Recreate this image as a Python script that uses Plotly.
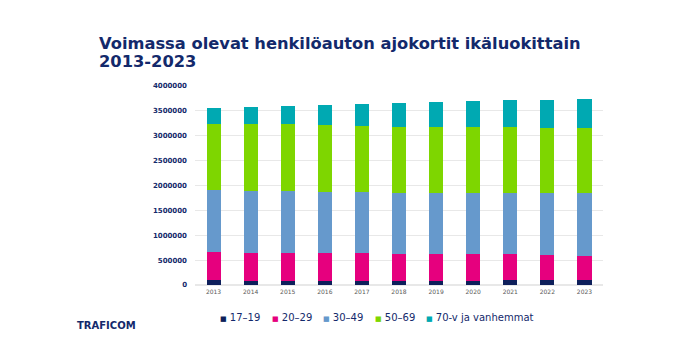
import plotly.graph_objects as go

years = ["2013", "2014", "2015", "2016", "2017", "2018", "2019", "2020", "2021", "2022", "2023"]
age_17_19 = [94000, 85000, 85000, 85000, 85000, 85000, 85000, 90000, 100000, 100000, 100000]
age_20_29 = [561000, 556000, 556000, 555000, 555000, 545000, 535000, 530000, 520000, 500000, 490000]
age_30_49 = [1257000, 1251000, 1239000, 1230000, 1230000, 1215000, 1220000, 1230000, 1230000, 1250000, 1260000]
age_50_69 = [1322000, 1342000, 1354000, 1340000, 1330000, 1335000, 1340000, 1320000, 1320000, 1300000, 1300000]
age_70_plus = [326000, 346000, 366000, 410000, 440000, 480000, 495000, 530000, 550000, 575000, 590000]

series_names = ["17–19", "20–29", "30–49", "50–69", "70-v ja vanhemmat"]
series_values = [age_17_19, age_20_29, age_30_49, age_50_69, age_70_plus]
series_colors = ["#0E1F5B", "#E6007E", "#6699CC", "#7ED600", "#00A9B2"]

W, H = 685, 359
L, R, T, B = 195, 82, 86, 74
PW, PH = W - L - R, H - T - B

def px_to_paper_x(px):
    return (px - L) / PW

def px_to_paper_y(py):
    return (H - B - py) / PH

fig = go.Figure()
for name, vals, col in zip(series_names, series_values, series_colors):
    fig.add_trace(go.Bar(x=years, y=vals, name=name,
                         marker=dict(color=col, line=dict(width=0))))

navy = "#13296B"
fig.update_layout(
    barmode="stack",
    bargap=0.62,
    width=W, height=H,
    margin=dict(l=L, r=R, t=T, b=B, autoexpand=False),
    paper_bgcolor="white", plot_bgcolor="white",
    font=dict(family="DejaVu Sans", color=navy),
    showlegend=False,
    yaxis=dict(
        range=[0, 4000000], dtick=500000, tickformat="d",
        showgrid=True, gridcolor="#E8E8E8", gridwidth=1,
        zeroline=True, zerolinecolor="#E8E8E8",
        tickfont=dict(size=7, color=navy, family="DejaVu Sans", weight="bold"),
        ticks="", ticklabelstandoff=7,
    ),
    xaxis=dict(
        tickfont=dict(size=6, color="#595959", family="DejaVu Sans"),
        showline=False, ticks="", ticklabelstandoff=2,
    ),
)

# Title (two lines)
for txt, py in [("Voimassa olevat henkilöauton ajokortit ikäluokittain", 43),
                ("2013-2023", 61)]:
    fig.add_annotation(
        text="<b>" + txt + "</b>", xref="paper", yref="paper",
        x=px_to_paper_x(97), y=px_to_paper_y(py), xanchor="left", yanchor="middle",
        showarrow=False, font=dict(size=16.3, color=navy, family="DejaVu Sans"),
    )

# Legend drawn as text entries
legend_x = [218, 269.5, 321, 372.5, 424]
for name, col, lx in zip(series_names, series_colors, legend_x):
    fig.add_annotation(
        text="<span style='color:%s;font-size:7px'>■</span> %s" % (col, name),
        xref="paper", yref="paper",
        x=px_to_paper_x(lx), y=px_to_paper_y(317.5), xanchor="left", yanchor="middle",
        showarrow=False, font=dict(size=10, color=navy, family="DejaVu Sans"),
    )

fig.add_annotation(
    text="<b>TRAFICOM</b>", xref="paper", yref="paper",
    x=px_to_paper_x(75), y=px_to_paper_y(325), xanchor="left", yanchor="middle",
    showarrow=False, font=dict(size=10, color=navy, family="DejaVu Sans"),
)

fig.write_html("out.html", config={"displayModeBar": False},
               post_script="document.body.style.margin='0px';")
